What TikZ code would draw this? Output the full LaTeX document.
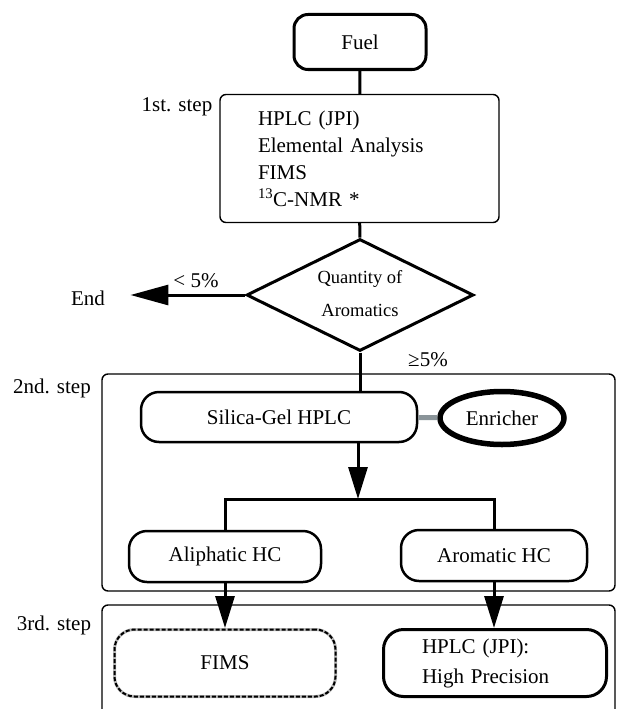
\documentclass[tikz,border=0pt]{standalone}
\usepackage{fontspec}
\setmainfont{Liberation Serif}
\usetikzlibrary{arrows.meta,shapes.geometric}
\definecolor{linkgray}{RGB}{138,148,153}

\begin{document}
\begin{tikzpicture}[x=1pt, y=-1pt,
  every node/.style={font=\fontsize{21}{27}\selectfont},
  term/.style={draw, line width=3pt, rounded corners=14pt},
  proc/.style={draw, line width=2.5pt, rounded corners=18pt},
  stepbox/.style={draw, line width=1.4pt, rounded corners=6pt},
  decide/.style={draw, diamond, aspect=2, line width=3pt, inner sep=0pt},
  link/.style={line width=3pt},
  flow/.style={link, -{Triangle[length=32pt, width=19pt]}}
  ]
  \useasboundingbox (0,0) rectangle (616,709);

  % step frames
  \draw[stepbox] (102,374) rectangle (615,591);
  \draw[stepbox] (102,605) rectangle (615,725);
  \node (lab1) at (177,107) {1st. step};
  \node (lab2) at (52,388) {2nd. step};
  \node (lab3) at (54,625) {3rd. step};

  % 1st step
  \node[term, minimum width=132pt, minimum height=55pt] (fuel) at (360,42) {Fuel};
  \node[stepbox, minimum height=128pt, text width=203pt, inner xsep=38pt, align=left] (s1) at (359.5,158.5)
    {HPLC (JPI)\\Elemental Analysis\\FIMS\\\textsuperscript{13}C-NMR *};
  \node[decide, minimum width=227pt, minimum height=112pt, align=center,
    font=\fontsize{18.5}{33}\selectfont] (qty) at (360,295) {Quantity of\\Aromatics\vphantom{g}};
  \node (endn) at (88,298) {End};
  \node (lt) at (196,281) {< 5\%};
  \node (ge) at (428,360) {≥5\%};

  % 2nd step
  \node[proc, minimum width=276pt, minimum height=50pt] (silica) at (279,417) {Silica-Gel HPLC};
  \node[draw, ellipse, line width=5.5pt, minimum width=124pt, minimum height=53pt] (enr) at (502,418) {Enricher};
  \node[proc, minimum width=192pt, minimum height=51pt] (aliph) at (225,556.5) {Aliphatic HC};
  \node[proc, minimum width=186pt, minimum height=51pt] (arom) at (494,555.5) {Aromatic HC};
  \coordinate (split) at (358,499);

  % 3rd step
  \node[proc, draw=gray!55, line width=3pt, rounded corners=20pt, minimum width=221pt, minimum height=67pt,
    postaction={draw=black, line width=2pt, dash pattern=on 4pt off 2pt}] (fims) at (225,663) {FIMS};
  \node[proc, line width=3pt, rounded corners=20pt, minimum height=67pt, text width=146pt, inner xsep=38.5pt,
    align=left, font=\fontsize{21}{30}\selectfont] (hplc) at (495,663) {HPLC (JPI):\\High Precision};

  % connectors
  \draw[link] (fuel) -- (s1);
  \draw[link] (s1) -- (qty);
  \draw[link, -{Triangle[length=38pt, width=20pt]}, shorten >=22pt] (qty.west) -- (qty.west -| endn.east);
  \draw[link] (qty.south) -- (qty.south |- silica.north);
  \draw[linkgray, line width=5pt] (silica) -- (enr);
  \draw[flow] (silica.south -| split) -- (split);
  \draw[link] (aliph.north) -- (aliph.north |- split) -- (arom.north |- split) -- (arom.north);
  \draw[flow] (aliph) -- (fims);
  \draw[flow] (arom) -- (arom.south |- hplc.north);
\end{tikzpicture}
\end{document}
